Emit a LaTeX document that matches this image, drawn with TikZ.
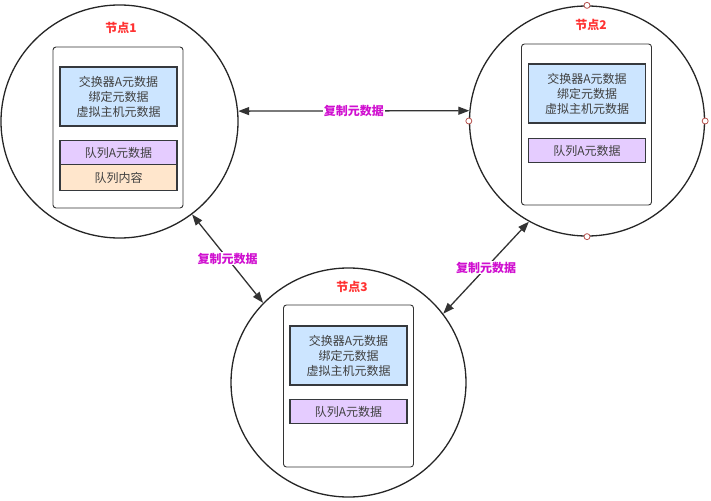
\documentclass[tikz,border=0pt]{standalone}
\usepackage{fontspec}
\setmainfont{Noto Sans CJK SC}
\usetikzlibrary{shapes.geometric,arrows.meta}
\definecolor{boxline}{HTML}{36393D}
\definecolor{bluefill}{HTML}{CCE5FF}
\definecolor{purplefill}{HTML}{E5CCFF}
\definecolor{orangefill}{HTML}{FFE6CC}
\definecolor{titlered}{HTML}{FF3333}
\definecolor{labmag}{HTML}{D010D0}
\definecolor{handle}{HTML}{B85450}
\definecolor{txt}{HTML}{404040}
\begin{document}
\begin{tikzpicture}[x=1pt,y=-1pt,
  ring/.style={ellipse,draw=black!85,line width=1.3pt,inner sep=0pt},
  panel/.style={draw=black!80,line width=0.9pt,rounded corners=3pt,minimum width=130pt,minimum height=161pt,inner sep=0pt,fill=white},
  meta/.style={draw=boxline,line width=1.6pt,minimum width=117pt,inner sep=0pt,text=txt,align=center,font=\fontsize{12}{15}\selectfont},
  bluebox/.style={meta,fill=bluefill,minimum height=59pt},
  purplebox/.style={meta,fill=purplefill,minimum height=24pt},
  orangebox/.style={meta,fill=orangefill,minimum height=26pt},
  title/.style={text=titlered,font=\fontsize{12}{14}\selectfont\bfseries},
  link/.style={draw=black!80,line width=1.3pt,{Triangle[length=11pt,width=8pt]}-{Triangle[length=11pt,width=8pt]}},
  linklabel/.style={fill=white,text=labmag,inner sep=1pt,font=\fontsize{12}{14}\selectfont\bfseries},
  handlept/.style={circle,draw=handle,fill=white,line width=0.8pt,minimum size=6pt,inner sep=0pt}
]
\useasboundingbox (0,0) rectangle (711,500);

% rings
\node[ring,minimum width=237pt,minimum height=233pt] (c1) at (119.5,121.5) {};
\node[ring,minimum width=235pt,minimum height=230pt] (c2) at (587,121) {};
\node[ring,minimum width=235pt,minimum height=229pt] (c3) at (348.5,382.5) {};

% node 1
\node[title] (t1) at (121,28) {节点1};
\node[panel] (r1) at (118,127.5) {};
\node[bluebox] (b1) at (118.5,96.5) {交换器A元数据\\绑定元数据\\虚拟主机元数据};
\node[purplebox] (p1) at (118.5,152.5) {队列A元数据};
\node[orangebox] (o1) at (118.5,177.5) {队列内容};

% node 2
\node[title] (t2) at (591,25) {节点2};
\node[panel] (r2) at (586.5,124.5) {};
\node[bluebox] (b2) at (587,93.5) {交换器A元数据\\绑定元数据\\虚拟主机元数据};
\node[purplebox] (p2) at (587,150.5) {队列A元数据};

% node 3
\node[title] (t3) at (352,287) {节点3};
\node[panel,minimum height=162pt] (r3) at (348.5,386) {};
\node[bluebox] (b3) at (348.5,355.5) {交换器A元数据\\绑定元数据\\虚拟主机元数据};
\node[purplebox] (p3) at (348.5,411.5) {队列A元数据};

% links
\draw[link] (c1.5) -- node[linklabel] (l12) {复制元数据} (c2.175);
\draw[link] (c1.-52) -- node[linklabel] (l13) {复制元数据} (c3.137);
\draw[link] (c2.240) -- node[linklabel] (l23) {复制元数据} (c3.36);

% selection handles on ring 2
\node[handlept] (h1) at (c2.north) {};
\node[handlept] (h2) at (c2.south) {};
\node[handlept] (h3) at (c2.west) {};
\node[handlept] (h4) at (c2.east) {};
\end{tikzpicture}
\end{document}
